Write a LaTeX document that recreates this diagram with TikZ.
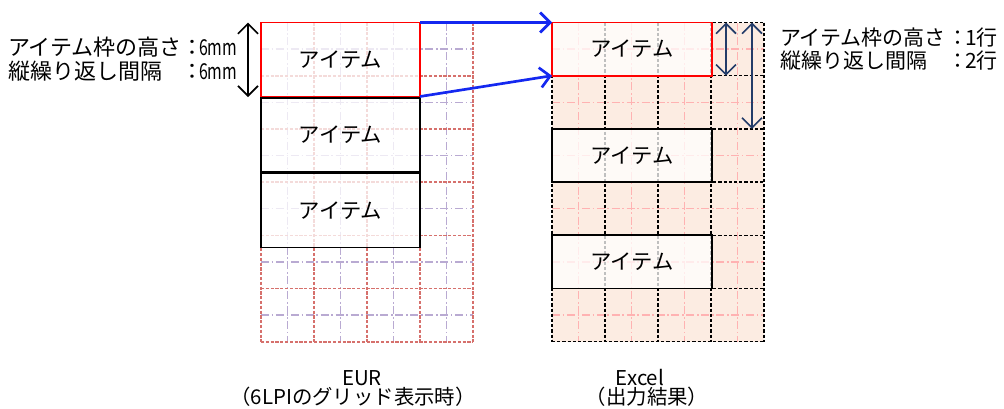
\documentclass[tikz,border=0pt]{standalone}
\usepackage{fontspec}
\setmainfont{Noto Sans CJK JP}
\usetikzlibrary{arrows.meta}
\definecolor{gridred}{RGB}{214,112,108}
\definecolor{gridpurple}{RGB}{185,170,210}
\definecolor{xlfill}{RGB}{252,236,226}
\definecolor{xlpink}{RGB}{255,178,178}
\definecolor{dimnavy}{RGB}{35,60,105}
\definecolor{arrowblue}{RGB}{20,40,240}
\begin{document}
\begin{tikzpicture}[x=0.75pt,y=-0.75pt,
  redmajor/.style={draw=gridred, line width=1.2pt, dash pattern=on 2.4pt off 1.2pt},
  purpleminor/.style={draw=gridpurple, line width=1.1pt, dash pattern=on 6pt off 2pt on 1.2pt off 2pt},
  blackmajor/.style={draw=black, line width=1.1pt, dash pattern=on 2.4pt off 1.5pt},
  pinkminor/.style={draw=xlpink, line width=1pt, dash pattern=on 6pt off 2pt on 1.2pt off 2pt},
  itembox/.style={draw=black, line width=1.4pt, fill=white, fill opacity=0.75, text opacity=1,
    inner sep=0pt, outer sep=0pt, font=\fontsize{16}{18}\selectfont},
  bluearrow/.style={draw=arrowblue, line width=2pt, -{Straight Barb[length=7.5pt,width=15pt]}},
  dimblack/.style={draw=black, line width=1.2pt, {Straight Barb[length=7.5pt,width=15pt]}-{Straight Barb[length=7.5pt,width=15pt]}},
  dimblue/.style={draw=dimnavy, line width=1.2pt, {Straight Barb[length=7.5pt,width=15pt]}-{Straight Barb[length=7.5pt,width=15pt]}},
  txt/.style={inner sep=0pt, outer sep=0pt, anchor=base west},
  ctxt/.style={inner sep=0pt, outer sep=0pt, anchor=base},
  bigfont/.style={font=\fontsize{16.5}{18}\selectfont},
  rfont/.style={font=\fontsize{15.75}{18}\selectfont},
  capfont/.style={font=\fontsize{15.3}{17}\selectfont}
]
\useasboundingbox (0,0) rectangle (1004,408);

% ---------- EUR grid ----------
\foreach \i in {0,...,3} \draw[purpleminor] ({287.5+53*\i},22.5) -- ({287.5+53*\i},341.7);
\foreach \j in {0,...,5} \draw[purpleminor] (261,{49.1+53.2*\j}) -- (473,{49.1+53.2*\j});
\foreach \i in {0,...,4} \draw[redmajor] ({261+53*\i},22.5) -- ({261+53*\i},341.7);
\foreach \j in {0,...,6} \draw[redmajor] (261,{22.5+53.2*\j}) -- (473,{22.5+53.2*\j});

% ---------- Excel grid ----------
\fill[xlfill] (552,22.5) rectangle (764,341.7);
\foreach \i in {0,...,3} \draw[pinkminor] ({578.5+53*\i},22.5) -- ({578.5+53*\i},341.7);
\foreach \j in {0,...,5} \draw[pinkminor] (552,{49.1+53.2*\j}) -- (764,{49.1+53.2*\j});
\foreach \i in {0,...,4} \draw[blackmajor] ({552+53*\i},22.5) -- ({552+53*\i},341.7);
\foreach \j in {0,...,6} \draw[blackmajor] (552,{22.5+53.2*\j}) -- (764,{22.5+53.2*\j});

% ---------- items ----------
\node[itembox, draw=red, minimum width=159*0.75pt, minimum height=74*0.75pt] (L1) at (340.5,59.5) {アイテム};
\node[itembox, minimum width=159*0.75pt, minimum height=73.5*0.75pt] (L2) at (340.5,134.75) {アイテム};
\node[itembox, minimum width=159*0.75pt, minimum height=74.5*0.75pt] (L3) at (340.5,210.25) {アイテム};

\node[itembox, draw=red, minimum width=159.7*0.75pt, minimum height=53.2*0.75pt] (R1) at (631.85,49.1) {アイテム};
\node[itembox, minimum width=159.7*0.75pt, minimum height=53.2*0.75pt] (R2) at (631.85,155.5) {アイテム};
\node[itembox, minimum width=159.7*0.75pt, minimum height=53.2*0.75pt] (R3) at (631.85,261.9) {アイテム};

% ---------- arrows ----------
\draw[bluearrow] (L1.north east) -- (R1.north west);
\draw[bluearrow] (L1.south east) -- (R1.south west);

\coordinate (la) at (248,22.7);
\coordinate (lb) at (248,97);
\draw[dimblack] (la) -- (lb);

\coordinate (ra1) at (726,22.5);
\coordinate (rb1) at (726,75.7);
\draw[dimblue] (ra1) -- (rb1);
\coordinate (ra2) at (752,22.5);
\coordinate (rb2) at (752,128.9);
\draw[dimblue] (ra2) -- (rb2);

% ---------- left texts ----------
\node[txt, bigfont] (lt1) at (8,55.4) {アイテム枠の高さ};
\node[ctxt, bigfont] (lc1) at (192,55.4) {：};
\node[txt, bigfont] (lv1) at (199,55.4) {\scalebox{0.72}[1]{6mm}};
\node[txt, bigfont] (lt2) at (8,79.4) {縦繰り返し間隔};
\node[ctxt, bigfont] (lc2) at (192,79.4) {：};
\node[txt, bigfont] (lv2) at (199,79.4) {\scalebox{0.72}[1]{6mm}};

% ---------- right texts ----------
\node[txt, rfont] (rt1) at (780,45) {アイテム枠の高さ};
\node[ctxt, rfont] (rc1) at (958,45) {：};
\node[txt, rfont] (rv1) at (965,45) {1行};
\node[txt, rfont] (rt2) at (780,68) {縦繰り返し間隔};
\node[ctxt, rfont] (rc2) at (958,68) {：};
\node[txt, rfont] (rv2) at (965,68) {2行};

% ---------- captions ----------
\node[ctxt, capfont] (c1) at (362,385) {EUR};
\node[ctxt, capfont] (c2) at (353,404) {（6LPIのグリッド表示時）};
\node[ctxt, capfont] (c3) at (640,385) {Excel};
\node[ctxt, capfont] (c4) at (647,404) {（出力結果）};
\end{tikzpicture}
\end{document}
